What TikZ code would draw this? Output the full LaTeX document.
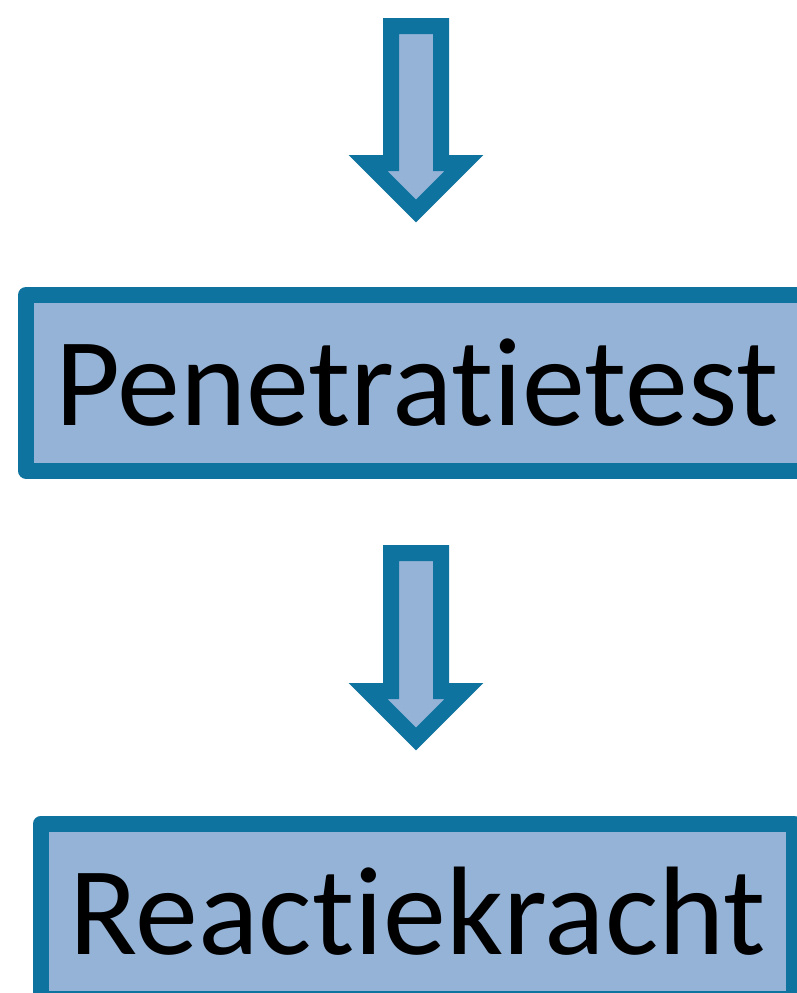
\documentclass[tikz,border=0pt]{standalone}
\usepackage{fontspec}
\setmainfont{Carlito}[Ligatures=NoCommon]
\definecolor{rand}{RGB}{14,115,158}
\definecolor{vulling}{RGB}{149,179,215}

\begin{document}
\begin{tikzpicture}[x=1pt, y=-1pt,
    blok/.style={draw=rand, fill=vulling, line width=16pt, line join=round, inner sep=0pt, minimum height=175.5pt, font=\fontsize{126}{130}\selectfont},
    pijl/.style={draw=rand, fill=vulling, line width=16pt, line join=miter}]
    \useasboundingbox (0,0) rectangle (797,993);
    \clip (0,0) rectangle (797,993);

    % Blokken met tekst
    \node[blok, minimum width=781pt] (pen) at (416.5,382.75) {Penetratietest};
    \node[blok, minimum width=753pt] (reac) at (417.5,911.25) {Reactiekracht};

    % Beginpunten van de blokpijlen
    \coordinate (p1) at (416,26);
    \coordinate (p2) at (416,553);

    % Blokpijlen naar beneden
    \draw[pijl] (p1) ++(-25,0) -- ++(50,0) -- ++(0,137) -- ++(23,0) -- ++(-48,48) -- ++(-48,-48) -- ++(23,0) -- cycle;
    \draw[pijl] (p2) ++(-25,0) -- ++(50,0) -- ++(0,138) -- ++(23,0) -- ++(-48,48) -- ++(-48,-48) -- ++(23,0) -- cycle;

\end{tikzpicture}
\end{document}
